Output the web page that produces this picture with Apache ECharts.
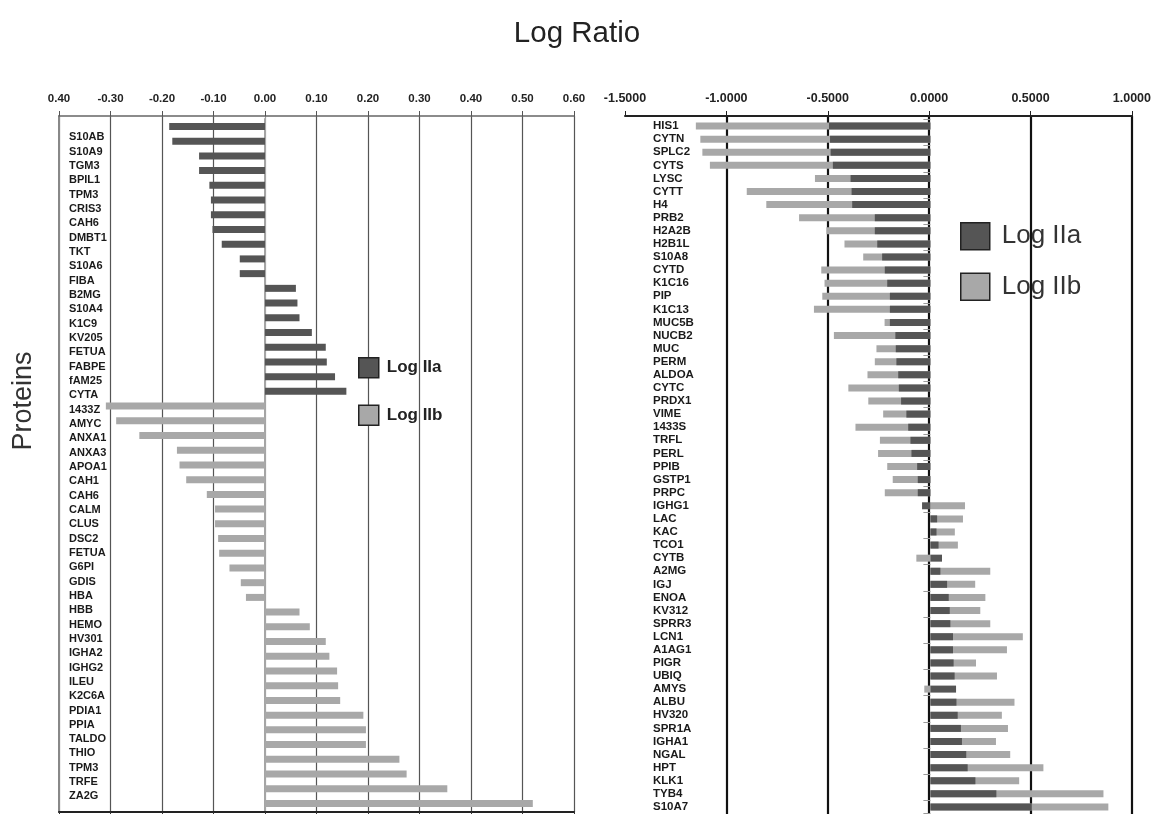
<!DOCTYPE html>
<html><head><meta charset="utf-8">
<script src="https://cdn.jsdelivr.net/npm/echarts@6/dist/echarts.min.js"></script>
<style>html,body{margin:0;padding:0;background:#fff}#c{width:1154px;height:814px}</style>
</head><body><div id="c"></div>
<script>
// ---------- DATA ----------
const leftNamesIIa = ['S10AB','S10A9','TGM3','BPIL1','TPM3','CRIS3','CAH6','DMBT1','TKT','S10A6','FIBA','B2MG','S10A4','K1C9','KV205','FETUA','FABPE','fAM25','CYTA'];
const leftValuesIIa = [-0.186,-0.180,-0.128,-0.128,-0.108,-0.105,-0.105,-0.102,-0.084,-0.049,-0.049,0.060,0.063,0.067,0.091,0.118,0.120,0.136,0.158];
const leftNamesIIb = ['1433Z','AMYC','ANXA1','ANXA3','APOA1','CAH1','CAH6','CALM','CLUS','DSC2','FETUA','G6PI','GDIS','HBA','HBB','HEMO','HV301','IGHA2','IGHG2','ILEU','K2C6A','PDIA1','PPIA','TALDO','THIO','TPM3','TRFE','ZA2G'];
const leftValuesIIb = [-0.309,-0.289,-0.244,-0.171,-0.166,-0.153,-0.113,-0.097,-0.097,-0.091,-0.089,-0.069,-0.047,-0.037,0.067,0.087,0.118,0.125,0.140,0.142,0.146,0.191,0.196,0.196,0.261,0.275,0.354,0.520];

const rightNames = ['HIS1','CYTN','SPLC2','CYTS','LYSC','CYTT','H4','PRB2','H2A2B','H2B1L','S10A8','CYTD','K1C16','PIP','K1C13','MUC5B','NUCB2','MUC','PERM','ALDOA','CYTC','PRDX1','VIME','1433S','TRFL','PERL','PPIB','GSTP1','PRPC','IGHG1','LAC','KAC','TCO1','CYTB','A2MG','IGJ','ENOA','KV312','SPRR3','LCN1','A1AG1','PIGR','UBIQ','AMYS','ALBU','HV320','SPR1A','IGHA1','NGAL','HPT','KLK1','TYB4','S10A7'];
const rightIIa = [-0.498,-0.493,-0.490,-0.479,-0.392,-0.387,-0.384,-0.273,-0.273,-0.261,-0.237,-0.224,-0.212,-0.199,-0.199,-0.199,-0.172,-0.170,-0.167,-0.158,-0.155,-0.144,-0.118,-0.109,-0.098,-0.093,-0.065,-0.062,-0.062,-0.041,0.033,0.030,0.040,0.057,0.049,0.082,0.090,0.095,0.098,0.111,0.111,0.114,0.119,0.126,0.128,0.134,0.150,0.155,0.176,0.183,0.221,0.324,0.498];
const rightIIb = [-1.152,-1.130,-1.120,-1.083,-0.567,-0.902,-0.806,-0.645,-0.511,-0.422,-0.330,-0.536,-0.520,-0.531,-0.572,-0.225,-0.474,-0.265,-0.273,-0.309,-0.403,-0.305,-0.232,-0.368,-0.248,-0.257,-0.212,-0.185,-0.224,0.170,0.160,0.120,0.135,-0.069,0.294,0.220,0.270,0.245,0.294,0.454,0.376,0.224,0.327,-0.030,0.413,0.351,0.381,0.322,0.392,0.555,0.436,0.850,0.874];

const leftTickLabels = ['0.40','-0.30','-0.20','-0.10','0.00','0.10','0.20','0.30','0.40','0.50','0.60'];
const rightTickLabels = ['-1.5000','-1.0000','-0.5000','0.0000','0.5000','1.0000'];
const seriesNames = ['Log IIa','Log IIb'];

// ---------- BUILD ----------
const L = {min:-0.4, max:0.6, interval:0.1};
const R = {min:-1.5, max:1.0, interval:0.5};
const fmt = (arr, a) => v => arr[Math.round((v - a.min) / a.interval)];
const leftNames = leftNamesIIa.concat(leftNamesIIb);
const leftDataIIa = leftValuesIIa.concat(leftNamesIIb.map(() => '-'));
const leftDataIIb = leftNamesIIa.map(() => '-').concat(leftValuesIIb);

const FONT = 'Liberation Sans';
const DARK = '#555555', LIGHT = '#a8a8a8';

const hiddenX = (grid, a) => ({type:'value', gridIndex:grid, min:a.min, max:a.max, interval:a.interval, show:false,
  axisLine:{show:false, onZero:false}});

const leftSplitColors = leftTickLabels.map((t, i) => i === 4 ? '#9a9a9a' : '#555');

const option = {
  backgroundColor: '#fff',
  animation: false,
  title: {text:'Log Ratio', left:'center', top:14, textStyle:{fontFamily:FONT, fontSize:29.5, fontWeight:'normal', color:'#222'}},
  legend: [
    {data: seriesNames, orient:'vertical', left:358, top:357, padding:0, itemWidth:20, itemHeight:20, itemGap:26, icon:'rect',
     selectedMode:false, itemStyle:{borderColor:'#222', borderWidth:1.5},
     textStyle:{fontFamily:FONT, fontSize:17, fontWeight:'bold', color:'#222', padding:[0,0,0,3]}},
    {data: seriesNames, orient:'vertical', left:960, top:222, padding:0, itemWidth:29, itemHeight:27, itemGap:22, icon:'rect',
     selectedMode:false, itemStyle:{borderColor:'#222', borderWidth:1.5},
     textStyle:{fontFamily:FONT, fontSize:26, color:'#333', padding:[0,0,0,7]}}
  ],
  grid: [
    {left:59, top:116, width:515, height:696},     // 0 left frame
    {left:59, top:119.1, width:515, height:691.7}, // 1 left bars
    {left:59, top:130.3, width:515, height:673.3}, // 2 left labels
    {left:625, top:116, width:509, height:698},    // 3 right frame
    {left:625, top:119.5, width:509, height:694},  // 4 right bars
    {left:625, top:119.5, width:509, height:694}   // 5 right labels
  ],
  xAxis: [
    {type:'value', gridIndex:0, position:'top', min:L.min, max:L.max, interval:L.interval,
     axisLabel:{formatter: fmt(leftTickLabels, L), fontFamily:FONT, fontSize:11.5, fontWeight:'bold', color:'#222', margin:11},
     axisLine:{show:true, onZero:false, lineStyle:{color:'#666', width:1.5}},
     axisTick:{show:true, length:5, lineStyle:{color:'#555'}},
     splitLine:{show:true, lineStyle:{color:leftSplitColors, width:1.2}}},
    {type:'value', gridIndex:0, position:'bottom', min:L.min, max:L.max, interval:L.interval,
     axisLabel:{show:false}, axisLine:{show:true, onZero:false, lineStyle:{color:'#222', width:2}},
     axisTick:{show:true, length:4, lineStyle:{color:'#333'}}, splitLine:{show:false}},
    hiddenX(1, L),
    hiddenX(2, L),
    {type:'value', gridIndex:3, position:'top', min:R.min, max:R.max, interval:R.interval,
     axisLabel:{formatter: fmt(rightTickLabels, R), fontFamily:FONT, fontSize:12.5, fontWeight:'bold', color:'#222', margin:11},
     axisLine:{show:true, onZero:false, lineStyle:{color:'#222', width:2}},
     axisTick:{show:true, length:5, lineStyle:{color:'#222'}},
     splitLine:{show:true, showMinLine:false, lineStyle:{color:'#111', width:2.2}}},
    hiddenX(4, R),
    hiddenX(5, R)
  ],
  yAxis: [
    {type:'value', gridIndex:0, min:0, max:1, show:true, name:'Proteins', nameLocation:'middle', nameGap:22, nameRotate:90,
     nameTextStyle:{fontFamily:FONT, fontSize:27, color:'#333', padding:[0,0,0,126]},
     axisLine:{show:true, onZero:false, lineStyle:{color:'#888', width:2}}, axisLabel:{show:false}, axisTick:{show:false}, splitLine:{show:false}},
    {type:'category', gridIndex:1, data:leftNames, inverse:true,
     axisLine:{show:true, onZero:true, lineStyle:{color:'#a5a5a5', width:2}}, axisLabel:{show:false}, axisTick:{show:false}},
    {type:'category', gridIndex:2, data:leftNames, inverse:true,
     axisLine:{show:false, onZero:false}, axisTick:{show:false},
     axisLabel:{inside:true, interval:0, margin:10, fontFamily:FONT, fontSize:11, fontWeight:'bold', color:'#1a1a1a'}},
    {type:'value', gridIndex:3, min:0, max:1, show:false, axisLine:{show:false, onZero:false}},
    {type:'category', gridIndex:4, data:rightNames, inverse:true,
     axisLine:{show:false, onZero:true}, axisLabel:{show:false},
     axisTick:{show:true, length:7, lineStyle:{color:'#9a9a9a'}}},
    {type:'category', gridIndex:5, data:rightNames, inverse:true,
     axisLine:{show:false, onZero:false}, axisTick:{show:false},
     axisLabel:{inside:true, interval:0, margin:28, fontFamily:FONT, fontSize:11.5, fontWeight:'bold', color:'#1a1a1a'}}
  ],
  series: [
    {name:'Log IIa', type:'bar', xAxisIndex:2, yAxisIndex:1, data:leftDataIIa, barWidth:7, barGap:'-100%', itemStyle:{color:DARK}},
    {name:'Log IIb', type:'bar', xAxisIndex:2, yAxisIndex:1, data:leftDataIIb, barWidth:7, barGap:'-100%', itemStyle:{color:LIGHT}},
    {name:'Log IIb', type:'bar', xAxisIndex:5, yAxisIndex:4, data:rightIIb, barWidth:7, barGap:'-100%', itemStyle:{color:LIGHT}},
    {name:'Log IIa', type:'bar', xAxisIndex:5, yAxisIndex:4, data:rightIIa, barWidth:7, barGap:'-100%', itemStyle:{color:DARK}}
  ]
};
const chart = echarts.init(document.getElementById('c'), null, {renderer:'canvas'});
chart.setOption(option);
</script></body></html>
